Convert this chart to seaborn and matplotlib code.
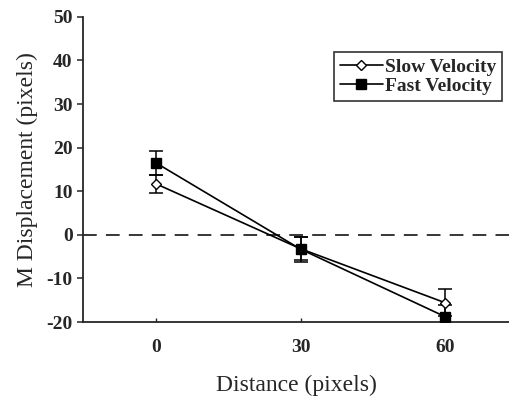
import matplotlib
matplotlib.use("Agg")
import matplotlib.pyplot as plt
import seaborn as sns
import pandas as pd
import numpy as np

distance = [0, 30, 60]
slow_mean = [11.7, -3.2, -15.6]
slow_err = [2.1, 2.6, 3.1]
fast_mean = [16.5, -3.3, -18.8]
fast_err = [2.8, 2.9, 2.8]
series_names = ["Slow Velocity", "Fast Velocity"]

sns.set_style("ticks")
plt.rcParams['font.family'] = ['Liberation Serif', 'DejaVu Serif']
plt.rcParams['axes.unicode_minus'] = False

fig = plt.figure(figsize=(5.1, 4.01), dpi=100)
ax = fig.add_axes([0.163, 0.197, 0.835, 0.761])

ax.axhline(0, color="black", lw=1.1, ls=(0, (9, 6)), zorder=1)

for name, means, errs, marker, face, ms in [
    (series_names[0], slow_mean, slow_err, "D", "white", 5.5),
    (series_names[1], fast_mean, fast_err, "s", "black", 6.5),
]:
    ax.errorbar(distance, means, yerr=errs, fmt="none", ecolor="black",
                elinewidth=1.1, capsize=5, capthick=1.1, zorder=2)
    d = pd.DataFrame({"Distance": distance, "Disp": means})
    sns.lineplot(data=d, x="Distance", y="Disp", ax=ax, color="black", lw=1.2,
                 marker=marker, markersize=ms, markerfacecolor=face,
                 markeredgecolor="black", markeredgewidth=1.0, label=name, zorder=3)

ax.set_xlim(-15.1, 73.2)
ax.set_ylim(-20, 50)
ax.set_xticks(distance)
ax.set_yticks(range(-20, 51, 10))
ax.tick_params(axis="y", direction="out", length=4, width=1.1, labelsize=14)
ax.tick_params(axis="x", direction="in", length=3, width=1.0, labelsize=14, pad=12)
for lab in ax.get_xticklabels() + ax.get_yticklabels():
    lab.set_fontweight("bold")
ax.spines["top"].set_visible(False)
ax.spines["right"].set_visible(False)
ax.spines["left"].set_linewidth(1.3)
ax.spines["bottom"].set_linewidth(1.3)

ax.set_xlabel("Distance (pixels)", fontsize=17, labelpad=14)
ax.set_ylabel("M Displacement (pixels)", fontsize=17, labelpad=6)

leg = ax.legend(loc="upper right", bbox_to_anchor=(0.983, 0.884), borderaxespad=0,
                frameon=True, fancybox=False, edgecolor="black", handlelength=2.2,
                handletextpad=0.1, borderpad=0.3, labelspacing=0.1,
                prop={"weight": "bold", "size": 14})
leg.get_frame().set_linewidth(1.2)

fig.savefig("out.png", dpi=100)
